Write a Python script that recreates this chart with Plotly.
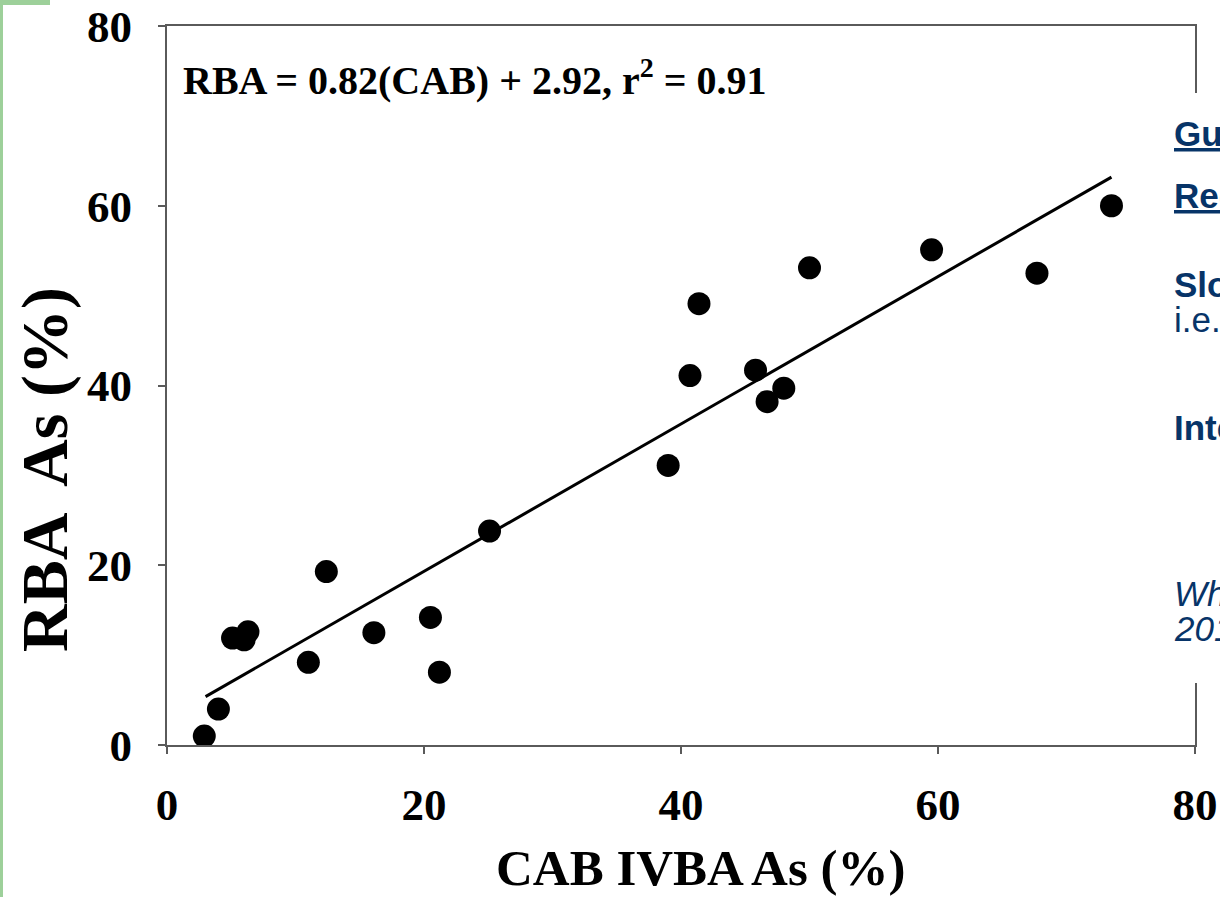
import plotly.graph_objects as go

# ---- data ----
cab_ivba = [2.9, 4.0, 5.1, 6.0, 6.3, 11.0, 12.4, 16.1, 20.5, 21.2, 25.1,
            39.0, 40.7, 41.4, 45.8, 46.7, 48.0, 50.0, 59.5, 67.7, 73.5]
rba_as = [1.0, 4.0, 11.9, 11.7, 12.6, 9.2, 19.3, 12.5, 14.2, 8.1, 23.8,
          31.1, 41.1, 49.1, 41.7, 38.2, 39.7, 53.1, 55.1, 52.5, 60.0]
fit_slope = 0.82
fit_intercept = 2.92
fit_x = [3.0, 73.5]
tick_vals = [0, 20, 40, 60, 80]
side_text = [
    ("<b><u>Guidance</u></b>", 133),
    ("<b><u>Requirements</u></b>", 195),
    ("<b>Slope</b>", 284),
    ("i.e.", 319),
    ("<b>Intercept</b>", 428),
    ("<i>Whitacre et al.</i>", 593),
    ("<i>2017</i>", 628),
]

W, H = 1220, 897
L, R, T, B = 167, 1195, 26, 745


def xp(px):
    return (px - L) / (R - L)


def yp(py):
    return (B - py) / (B - T)


fit_y = [fit_slope * v + fit_intercept for v in fit_x]

serif = "Liberation Serif, Times New Roman, serif"
sans = "Liberation Sans, Arial, sans-serif"
navy = "#073468"
axcol = "#5a5a5a"

fig = go.Figure()
fig.add_trace(go.Scatter(x=fit_x, y=fit_y, mode="lines",
                         line=dict(color="black", width=3), hoverinfo="skip"))
fig.add_trace(go.Scatter(x=cab_ivba, y=rba_as, mode="markers",
                         marker=dict(color="black", size=23)))

axis_common = dict(range=[0, 80], tickvals=tick_vals, showgrid=False, zeroline=False,
                   showline=True, mirror=True, linecolor=axcol, linewidth=2,
                   ticks="outside", ticklen=7, tickwidth=2, tickcolor=axcol,
                   automargin=False,
                   tickfont=dict(family=serif, size=45, color="black", weight="bold"))

fig.update_layout(
    width=W, height=H, showlegend=False,
    margin=dict(l=L, r=W - R, t=T, b=H - B, autoexpand=False),
    paper_bgcolor="white", plot_bgcolor="white",
    xaxis=dict(**axis_common, ticklabelstandoff=12),
    yaxis=dict(**axis_common, ticklabelstandoff=17),
)

shapes = [
    # white box covering right part (slide text box)
    dict(type="rect", xref="paper", yref="paper", x0=xp(1160), x1=xp(1240),
         y0=yp(683), y1=yp(93), fillcolor="white", line=dict(width=0), layer="above"),
    # green slide decoration
    dict(type="rect", xref="paper", yref="paper", x0=xp(0), x1=xp(3),
         y0=yp(900), y1=yp(0), fillcolor="#9dd09a", line=dict(width=0), layer="above"),
    dict(type="rect", xref="paper", yref="paper", x0=xp(0), x1=xp(50),
         y0=yp(5), y1=yp(0), fillcolor="#9dd09a", line=dict(width=0), layer="above"),
]
fig.update_layout(shapes=shapes)

ann = [
    dict(text="RBA = 0.82(CAB) + 2.92, r<sup>2</sup> = 0.91", x=xp(181), y=yp(78),
         xref="paper", yref="paper", xanchor="left", yanchor="middle", showarrow=False,
         font=dict(family=serif, size=40, color="black", weight="bold")),
    dict(text="CAB IVBA As (%)", x=xp(700), y=yp(868), xref="paper", yref="paper",
         xanchor="center", yanchor="middle", showarrow=False,
         font=dict(family=serif, size=51, color="black", weight="bold")),
    dict(text="RBA  As (%)", x=xp(45), y=yp(470), xref="paper", yref="paper",
         xanchor="center", yanchor="middle", showarrow=False, textangle=-90,
         font=dict(family=serif, size=66, color="black", weight="bold")),
]
for txt, py in side_text:
    ann.append(dict(text=txt, x=xp(1172), y=yp(py), xref="paper", yref="paper",
                    xanchor="left", yanchor="middle", showarrow=False,
                    font=dict(family=sans, size=35, color=navy)))
fig.update_layout(annotations=ann)

fig.write_html(
    "out.html",
    config={"displayModeBar": False},
    post_script="document.body.style.margin='0';document.body.style.overflow='hidden';",
)
